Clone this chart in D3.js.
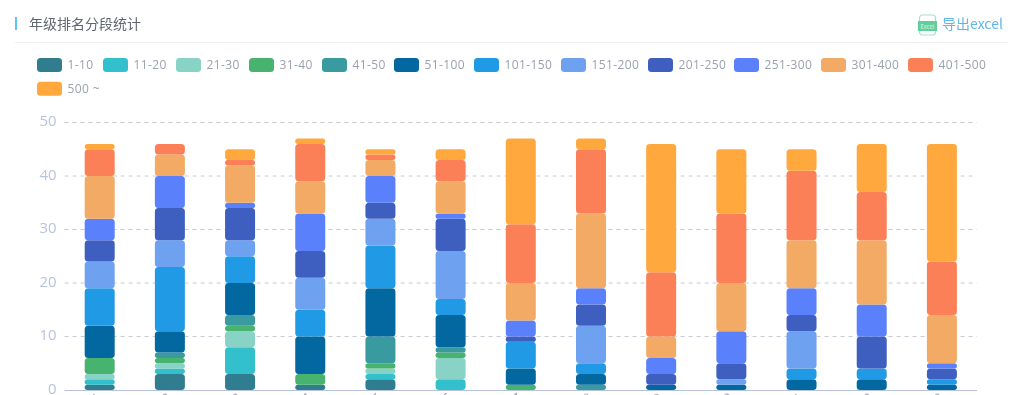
<!DOCTYPE html>
<html>
<head>
<meta charset="utf-8">
<script src="https://cdnjs.cloudflare.com/ajax/libs/d3/7.8.5/d3.min.js"></script>
<style>
    html, body { margin: 0; padding: 0; background: #fff; overflow: hidden; }
    svg { display: block; font-family: "Noto Sans CJK SC", "Open Sans", sans-serif; }
</style>
</head>
<body>
<div id="chart"></div>
<script>
const title = '年级排名分段统计';
const exportLabel = '导出excel';

const grades = ['1', '2', '3', '4', '5', '6', '7', '8', '9', '10', '11', '12', '13'];
const bands = ['1-10', '11-20', '21-30', '31-40', '41-50', '51-100', '101-150', '151-200', '201-250', '251-300', '301-400', '401-500', '500 ~'];
const bandColors = ['#2f7d8e', '#32c0cc', '#89d3c6', '#48b26f', '#399aa0', '#03689f', '#219ae6', '#6ea2f0', '#3f5fc0', '#5b80fc', '#f2aa64', '#fb8058', '#fea83e'];
const yTicks = [0, 10, 20, 30, 40, 50];

// one row per band, one value per grade
const v1to10 = [1, 3, 3, 1, 2, 0, 0, 0, 0, 0, 0, 0, 0];
const v11to20 = [1, 1, 5, 0, 1, 2, 0, 0, 0, 0, 0, 0, 0];
const v21to30 = [1, 1, 3, 0, 1, 4, 0, 0, 0, 0, 0, 0, 0];
const v31to40 = [3, 1, 1, 2, 1, 1, 1, 0, 0, 0, 0, 0, 0];
const v41to50 = [0, 1, 2, 0, 5, 1, 0, 1, 0, 0, 0, 0, 0];
const v51to100 = [6, 4, 6, 7, 9, 6, 3, 2, 1, 1, 2, 2, 1];
const v101to150 = [7, 12, 5, 5, 8, 3, 5, 2, 0, 0, 2, 2, 1];
const v151to200 = [5, 5, 3, 6, 5, 9, 0, 7, 0, 1, 7, 0, 0];
const v201to250 = [4, 6, 6, 5, 3, 6, 1, 4, 2, 3, 3, 6, 2];
const v251to300 = [4, 6, 1, 7, 5, 1, 3, 3, 3, 6, 5, 6, 1];
const v301to400 = [8, 4, 7, 6, 3, 6, 7, 14, 4, 9, 9, 12, 9];
const v401to500 = [5, 2, 1, 7, 1, 4, 11, 12, 12, 13, 13, 9, 10];
const v500up = [1, 0, 2, 1, 1, 2, 16, 2, 24, 12, 4, 9, 22];
const bandValues = [v1to10, v11to20, v21to30, v31to40, v41to50, v51to100, v101to150, v151to200, v201to250, v251to300, v301to400, v401to500, v500up];

const width = 1024, height = 395;
const plot = { left: 64.6, right: 977, top: 122, bottom: 390 };

const svg = d3.select('#chart').append('svg')
    .attr('width', width)
    .attr('height', height)
    .style('filter', 'blur(0.6px)');

// header
svg.append('rect').attr('x', 15).attr('y', 17).attr('width', 2).attr('height', 13).attr('fill', '#5cc6f2');
svg.append('text').attr('x', 29).attr('y', 29).attr('font-size', 14).attr('fill', '#5f6670').text(title);
svg.append('line').attr('x1', 15).attr('x2', 1007).attr('y1', 42.5).attr('y2', 42.5).attr('stroke', '#eceef0');

// excel icon
const icon = svg.append('g').attr('transform', 'translate(918,15)');
icon.append('rect').attr('x', 1.5).attr('y', 0).attr('width', 16).attr('height', 20).attr('rx', 3)
    .attr('fill', '#fff').attr('stroke', '#a6e3c6').attr('stroke-width', 1.2);
icon.append('rect').attr('x', 0).attr('y', 6).attr('width', 19).attr('height', 10).attr('fill', '#5fcf9c');
icon.append('text').attr('x', 9.5).attr('y', 13.5).attr('text-anchor', 'middle').attr('font-size', 6).attr('fill', '#d8f5e6').text('Excel');
svg.append('text').attr('x', 942).attr('y', 29).attr('font-size', 14).attr('fill', '#62b6e6').text(exportLabel);

// legend
const legendX = [37, 103, 176, 249, 322, 394, 474, 561, 648, 734, 821, 908, 37];
const legendY = [65, 65, 65, 65, 65, 65, 65, 65, 65, 65, 65, 65, 88.8];
const legend = svg.append('g').selectAll('g')
    .data(bands)
    .join('g')
    .attr('transform', (d, i) => `translate(${legendX[i]},${legendY[i]})`);
legend.append('rect')
    .attr('y', -7).attr('width', 25).attr('height', 14).attr('rx', 3.5)
    .attr('fill', (d, i) => bandColors[i]);
legend.append('text')
    .attr('x', 30.5).attr('y', 4)
    .attr('font-size', 12).attr('letter-spacing', 0.4)
    .attr('font-family', '"Open Sans", sans-serif')
    .attr('fill', '#9aa1ad')
    .text(d => d);

const x = d3.scaleBand().domain(grades).range([plot.left, plot.right]);
const y = d3.scaleLinear().domain([0, 50]).range([plot.bottom, 122.5]);

// grid
svg.append('g').selectAll('line')
    .data(yTicks.slice(1))
    .join('line')
    .attr('x1', plot.left).attr('x2', plot.right)
    .attr('y1', d => y(d)).attr('y2', d => y(d))
    .attr('stroke', '#c9ccd6').attr('stroke-dasharray', '4 4');

// y axis, labels sit a little above their grid line
const yAxis = svg.append('g')
    .attr('transform', `translate(${plot.left},-1.5)`)
    .call(d3.axisLeft(y).tickValues(yTicks).tickSize(0).tickPadding(8));
yAxis.select('.domain').remove();
yAxis.selectAll('text')
    .attr('font-size', 15)
    .attr('font-family', '"Open Sans", sans-serif')
    .attr('fill', '#b9c3dc');

// stacked bars
const rows = grades.map((g, i) => {
    const row = { grade: g };
    bands.forEach((b, j) => { row[b] = bandValues[j][i]; });
    return row;
});
const stacked = d3.stack().keys(bands)(rows);
const barWidth = 30;

svg.append('g').selectAll('g')
    .data(stacked)
    .join('g')
    .attr('fill', (d, i) => bandColors[i])
    .selectAll('rect')
    .data(d => d.filter(p => p[1] > p[0]))
    .join('rect')
    .attr('x', d => x(d.data.grade) + x.bandwidth() / 2 - barWidth / 2)
    .attr('y', d => y(d[1]))
    .attr('width', barWidth)
    .attr('height', d => y(d[0]) - y(d[1]))
    .attr('rx', d => Math.min(3.5, (y(d[0]) - y(d[1])) / 2));

// x axis, only the tips of the rotated labels fit in the picture
svg.append('line')
    .attr('x1', plot.left).attr('x2', plot.right)
    .attr('y1', plot.bottom + 0.5).attr('y2', plot.bottom + 0.5)
    .attr('stroke', '#b7c2e0');
svg.append('g').selectAll('text')
    .data(grades)
    .join('text')
    .attr('transform', d => `translate(${x(d) + x.bandwidth() / 2 + 2},${plot.bottom + 8}) rotate(-45)`)
    .attr('text-anchor', 'end')
    .attr('font-size', 12)
    .attr('fill', '#9aa1ad')
    .text(d => d);
</script>
</body>
</html>
